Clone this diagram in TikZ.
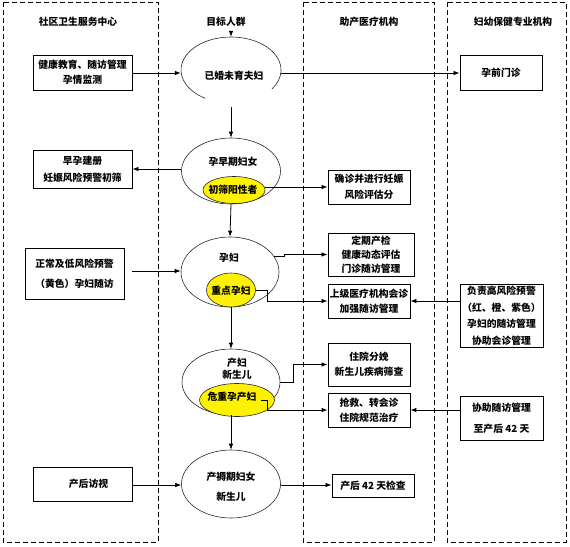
\documentclass[tikz,border=0pt]{standalone}
\usepackage{fontspec}
\setmainfont{Noto Sans CJK SC}
\usetikzlibrary{arrows.meta,shapes.geometric}
\begin{document}
\begin{tikzpicture}[x=1pt,y=-1pt,
  every node/.style={font=\fontsize{9.8}{12}\selectfont\bfseries, inner sep=1pt},
  ls/.style={font=\fontsize{9.8}{#1}\selectfont\bfseries},
  box/.style={draw, line width=0.9pt, align=center},
  ell/.style={ellipse, draw=black!85, line width=0.6pt, inner sep=0pt},
  yel/.style={ellipse, draw=black!85, fill=yellow, line width=0.6pt, inner sep=0pt},
  col/.style={draw, line width=0.9pt, dash pattern=on 5pt off 3pt},
  arr/.style={line width=0.8pt, -{Latex[length=6pt,width=4.5pt]}},
  lbl/.style={align=center}
]
\useasboundingbox (0,0) rectangle (570,546);
% columns
\draw[col] (3,2) rectangle (158,542);
\draw[col] (303,2) rectangle (434,542);
\draw[col] (447,2) rectangle (566,542);
% headers
\node (h1) at (78,22) {社区卫生服务中心};
\node (h2) at (226,22) {目标人群};
\node (h3) at (369,22) {助产医疗机构};
\node (h4) at (513,22) {妇幼保健专业机构};
% left boxes
\node[box, ls=15, minimum width=99pt, minimum height=35pt] (b1) at (82.5,72.5) {健康教育、随访管理\\孕情监测};
\node[box, ls=17, minimum width=99pt, minimum height=38pt] (b2) at (82.5,169) {早孕建册\\妊娠风险预警初筛};
\node[box, ls=20, minimum width=99pt, minimum height=51pt] (b3) at (74.5,273.5) {正常及低风险预警\\（黄色）孕妇随访};
\node[box, minimum width=99pt, minimum height=34pt] (b4) at (82.5,484) {\hspace*{12pt}产后访视};
% middle column boxes
\node[box, ls=16, minimum width=82pt, minimum height=34pt] (m1) at (369,187) {确诊并进行妊娠\\风险评估分};
\node[box, ls=14, minimum width=86pt, minimum height=43pt] (m2) at (371,254.5) {定期产检\\健康动态评估\\门诊随访管理};
\node[box, ls=15, minimum width=82pt, minimum height=34pt] (m3) at (369,301) {上级医疗机构会诊\\加强随访管理};
\node[box, ls=15, minimum width=82pt, minimum height=43pt] (m4) at (369,364.5) {住院分娩\\新生儿疾病筛查};
\node[box, ls=15, minimum width=82pt, minimum height=34pt] (m5) at (369,410) {抢救、转会诊\\住院规范治疗};
\node[box, minimum width=82pt, minimum height=23pt] (m6) at (373,485.5) {产后 42 天检查};
% right boxes
\node[box, minimum width=82pt, minimum height=35pt] (r1) at (501,72.5) {孕前门诊};
\node[box, ls=16.5, minimum width=83pt, minimum height=63pt] (r2) at (501.5,315.5) {负责高风险预警\\（红、橙、紫色）\\孕妇的随访管理\\协助会诊管理};
\node[box, ls=21, minimum width=83pt, minimum height=44pt] (r3) at (501.5,418) {协助随访管理\\至产后 42 天};
% ellipses
\node[ellipse, inner sep=0pt, minimum width=100pt, minimum height=66pt] (e1) at (231,70) {};
\draw[black!85, line width=0.6pt] ([shift={(-35:50pt and 33pt)}]e1.center) arc[start angle=-35, end angle=239, x radius=50pt, y radius=33pt];
\node[ell, minimum width=99pt, minimum height=66pt] (e2) at (231,171) {};
\node[ell, minimum width=98pt, minimum height=70pt] (e3) at (230,272) {};
\node[ell, minimum width=98pt, minimum height=66pt] (e4) at (231,382) {};
\node[ell, minimum width=99pt, minimum height=68pt] (e5) at (231,484) {};
\node[yel, minimum width=62pt, minimum height=27pt] (y2) at (234,190) {};
\node[yel, minimum width=49pt, minimum height=34pt] (y3) at (231,290) {};
\node[yel, minimum width=75pt, minimum height=33pt] (y4) at (237,400) {};
% ellipse labels
\node (t1) at (234,76) {已婚未育夫妇};
\node (t2) at (233,162) {孕早期妇女};
\node (t3) at (229,258) {孕妇};
\node[lbl, ls=12] (t4) at (237,368.5) {产妇\\新生儿};
\node[lbl, ls=20] (t5) at (231,487) {产褥期妇女\\新生儿};
\node (u2) at (233,190) {初筛阳性者};
\node (u3) at (231,291) {重点孕妇};
\node (u4) at (232,397) {危重孕产妇};
% connectors
\coordinate (top) at (231,31);
\draw[arr] (top) -- (e1.north);
\draw[arr] (b1.east |- 0,73) -- (e1.west |- 0,73);
\draw[arr] (e1.east |- 0,73) -- (r1.west |- 0,73);
\draw[arr, shorten <=4pt] (e1) -- (e2);
\draw[arr] (e2.west |- b2.east) -- (b2.east);
\draw[arr] (y2.east |- m1.west) -- (m1.west);
\draw[arr] (e2.south) -- (e3.north);
\draw[arr, shorten <=8pt] (b3.east |- 0,271) -- (e3.west |- 0,271);
\draw[arr] (e3.20) -- ++(10,0) |- (m2.west);
\draw[arr] (y3.east) -- ++(12,0) |- (m3.west);
\draw[arr] (r2.west |- m3.east) -- (m3.east);
\draw[arr] (y3.south) -- (e4.north);
\draw[arr] (e4.east) -- ++(13,0) |- (m4.west);
\draw[arr] ([xshift=-14pt]y4.east) -- ++(7,0) |- (m5.west);
\draw[arr] (r3.west |- m5.east) -- (m5.east);
\draw[arr] (e4.south) -- (e5.north);
\draw[arr] (b4.east |- 0,485) -- (e5.west |- 0,485);
\draw[arr] (e5.east |- 0,485) -- (m6.west |- 0,485);
\end{tikzpicture}
\end{document}
